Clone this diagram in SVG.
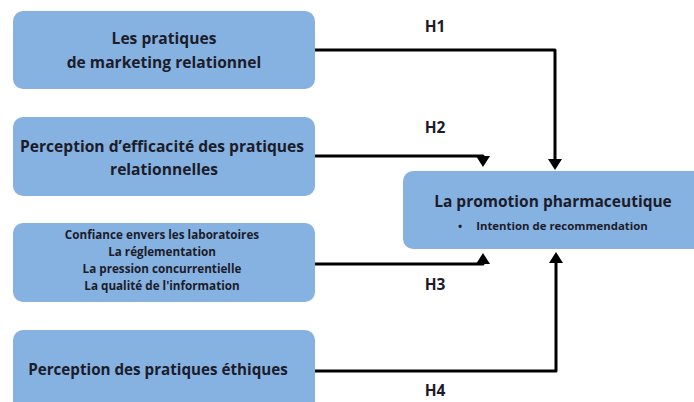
<svg xmlns="http://www.w3.org/2000/svg" width="694" height="402" viewBox="0 0 694 402">
<defs>
<style>
.box{fill:#86b2e2;}
.t{font-family:"Open Sans","Liberation Sans",sans-serif;font-weight:700;fill:#1c1c2a;text-anchor:middle;}
.conn{fill:none;stroke:#000;stroke-width:3;stroke-linejoin:round;}
.head{fill:#000;}
</style>
</defs>
<rect width="694" height="402" fill="#fff"/>
<g id="n1"><rect class="box" x="13" y="11" width="302" height="78" rx="10"/>
<text class="t" x="164" y="44" font-size="15.6">Les pratiques</text>
<text class="t" x="164" y="68" font-size="15.6">de marketing relationnel</text></g>
<g id="n2"><rect class="box" x="13" y="117" width="302" height="79" rx="10"/>
<text class="t" x="162" y="152" font-size="15.6">Perception d’efficacité des pratiques</text>
<text class="t" x="164" y="175" font-size="15.6">relationnelles</text></g>
<g id="n3"><rect class="box" x="13" y="223" width="302" height="79" rx="10"/>
<text class="t" x="162" y="239" font-size="11.7">Confiance envers les laboratoires</text>
<text class="t" x="162" y="256" font-size="11.7">La réglementation</text>
<text class="t" x="162" y="273" font-size="11.7">La pression concurrentielle</text>
<text class="t" x="162" y="290" font-size="11.7">La qualité de l'information</text></g>
<g id="n4"><rect class="box" x="13" y="330" width="302" height="90" rx="10"/>
<text class="t" x="158" y="375" font-size="15.2">Perception des pratiques éthiques</text></g>
<g id="n5"><rect class="box" x="403" y="171" width="300" height="78" rx="10"/>
<text class="t" x="553" y="207" font-size="15.5">La promotion pharmaceutique</text>
<text class="t" x="460" y="230" font-size="11">•</text>
<text class="t" x="562" y="230" font-size="11.4">Intention de recommendation</text></g>
<g id="connectors">
<path class="conn" d="M315 50 H555 V160"/>
<path class="head" d="M548 159 H562 L555 170 Z"/>
<path class="conn" d="M315 156 H483 V158"/>
<path class="head" d="M476 156 H490 L483 167 Z"/>
<path class="conn" d="M315 264 H483 V262"/>
<path class="head" d="M476 264 H490 L483 253 Z"/>
<path class="conn" d="M315 371 H556 V262"/>
<path class="head" d="M549 263 H563 L556 252 Z"/>
<text class="t" x="435" y="32" font-size="15.5">H1</text>
<text class="t" x="435" y="133" font-size="15.5">H2</text>
<text class="t" x="435" y="290" font-size="15.5">H3</text>
<text class="t" x="435" y="396" font-size="15.5">H4</text>
</g>
</svg>
